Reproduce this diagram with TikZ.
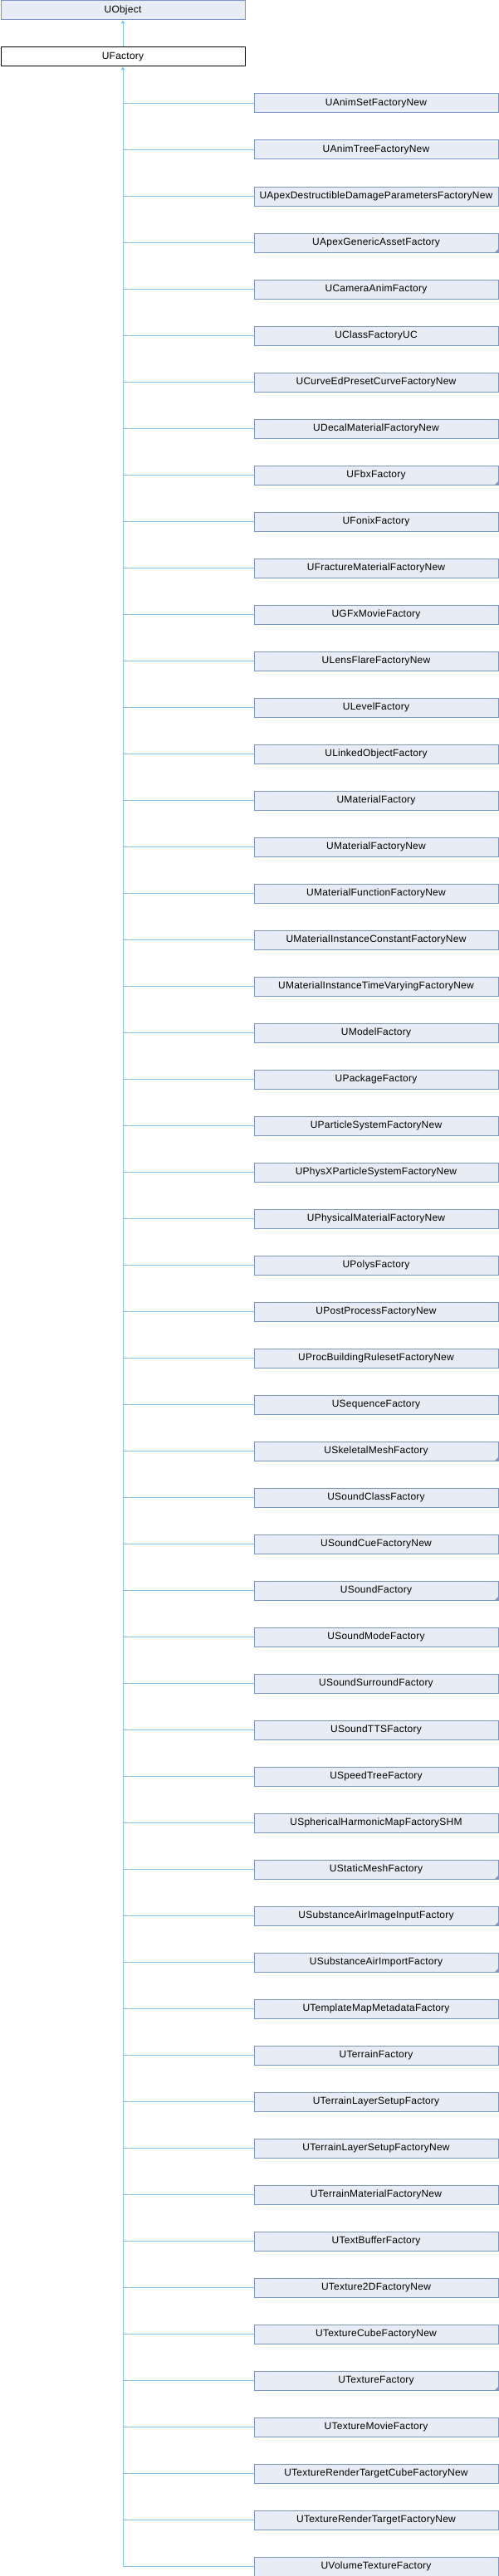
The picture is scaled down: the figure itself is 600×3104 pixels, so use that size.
\documentclass[tikz,border=0pt]{standalone}
\usepackage{fontspec}
\setmainfont{Liberation Sans}[LetterSpace=2]
\usetikzlibrary{arrows.meta}
\definecolor{boxfill}{RGB}{232,236,245}
\definecolor{boxline}{RGB}{124,149,199}
\definecolor{linkline}{RGB}{138,196,236}

\begin{document}
\begin{tikzpicture}[x=1pt, y=-1pt,
                    >={Triangle[width=5pt,length=4pt]},
                    cls/.style={draw=boxline, fill=boxfill, line width=1pt,
                                minimum width=294pt, minimum height=23pt,
                                inner sep=0pt, anchor=north west,
                                font=\fontsize{12}{14}\selectfont},
                    link/.style={draw=linkline, line width=1pt}
                   ]
\useasboundingbox (0,0) rectangle (600,3104);

\node[cls] (uobject) at (0.5,0.5) {UObject};
\node[cls, draw=black, fill=white] (ufactory) at (0.5,56.5) {UFactory};
\draw[link,<-] (uobject.south) -- (ufactory.north);

\foreach \cname [count=\k] in {
    UAnimSetFactoryNew,
    UAnimTreeFactoryNew,
    UApexDestructibleDamageParametersFactoryNew,
    UApexGenericAssetFactory,
    UCameraAnimFactory,
    UClassFactoryUC,
    UCurveEdPresetCurveFactoryNew,
    UDecalMaterialFactoryNew,
    UFbxFactory,
    UFonixFactory,
    UFractureMaterialFactoryNew,
    UGFxMovieFactory,
    ULensFlareFactoryNew,
    ULevelFactory,
    ULinkedObjectFactory,
    UMaterialFactory,
    UMaterialFactoryNew,
    UMaterialFunctionFactoryNew,
    UMaterialInstanceConstantFactoryNew,
    UMaterialInstanceTimeVaryingFactoryNew,
    UModelFactory,
    UPackageFactory,
    UParticleSystemFactoryNew,
    UPhysXParticleSystemFactoryNew,
    UPhysicalMaterialFactoryNew,
    UPolysFactory,
    UPostProcessFactoryNew,
    UProcBuildingRulesetFactoryNew,
    USequenceFactory,
    USkeletalMeshFactory,
    USoundClassFactory,
    USoundCueFactoryNew,
    USoundFactory,
    USoundModeFactory,
    USoundSurroundFactory,
    USoundTTSFactory,
    USpeedTreeFactory,
    USphericalHarmonicMapFactorySHM,
    UStaticMeshFactory,
    USubstanceAirImageInputFactory,
    USubstanceAirImportFactory,
    UTemplateMapMetadataFactory,
    UTerrainFactory,
    UTerrainLayerSetupFactory,
    UTerrainLayerSetupFactoryNew,
    UTerrainMaterialFactoryNew,
    UTextBufferFactory,
    UTexture2DFactoryNew,
    UTextureCubeFactoryNew,
    UTextureFactory,
    UTextureMovieFactory,
    UTextureRenderTargetCubeFactoryNew,
    UTextureRenderTargetFactoryNew,
    UVolumeTextureFactory}{
    \pgfmathsetmacro{\ytop}{112.5+56*(\k-1)}
    \node[cls] (c\k) at (305.5,\ytop) {\cname};
    \draw[link] (ufactory.south |- c\k.west) -- (c\k.west);
}
\draw[link,<-] (ufactory.south) -- (ufactory.south |- c54.west);

\foreach \k in {4,9,30,33,39,40,41,50}
    \fill[boxline] ([xshift=-5pt]c\k.south east) -- (c\k.south east)
        -- ([yshift=5pt]c\k.south east) -- cycle;
\end{tikzpicture}
\end{document}
